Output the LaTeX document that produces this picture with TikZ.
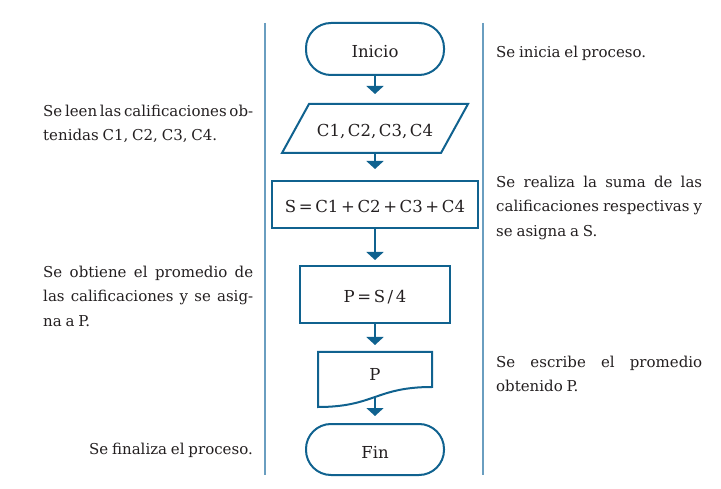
\documentclass[tikz,border=0pt]{standalone}
\usepackage{fontspec}
\setmainfont{DejaVu Serif}[WordSpace=0.8]
\newfontfamily\fuenteCaja{DejaVu Serif}[WordSpace=0.5]
\usepackage{tikz}
\usetikzlibrary{arrows.meta,calc}
\definecolor{AzulDiagrama}{RGB}{16,98,143}
\definecolor{AzulLinea}{RGB}{106,158,192}
\definecolor{GrisTexto}{RGB}{35,31,32}

\begin{document}
\begin{tikzpicture}[x=1pt,y=-1pt,>={Triangle[length=8pt,width=17pt]},
  bloque/.style={draw=AzulDiagrama,line width=2pt,text=GrisTexto,inner sep=0pt,text height=17pt,text depth=0pt,font=\fuenteCaja\fontsize{16.5}{19}\selectfont},
  terminal/.style={bloque,rounded corners=25pt,minimum width=138pt,minimum height=52pt},
  flecha/.style={->,draw=AzulDiagrama,line width=2pt,shorten >=#1},
  flecha/.default=8pt,
  nota/.style={text=GrisTexto,inner sep=0pt,font=\fontsize{15}{24.5}\selectfont}]
  \useasboundingbox (0,0) rectangle (721,489);
  \draw[AzulLinea,line width=2pt] (265,23)--(265,475);
  \draw[AzulLinea,line width=2pt] (483,23)--(483,475);
  \node[terminal] (inicio) at (375,49) {Inicio};
  \node[bloque,draw=none,minimum width=184pt,minimum height=47pt] (lectura) at (375,128.5) {C1, C2, C3, C4};
  \draw[AzulDiagrama,line width=2pt] (lectura.south west)--($(lectura.south east)+(-27,0)$)
    --(lectura.north east)--($(lectura.north west)+(27,0)$)--cycle;
  \node[bloque,minimum width=206pt,minimum height=47pt] (suma) at (375,204.5) {S = C1 + C2 + C3 + C4};
  \node[bloque,minimum width=150pt,minimum height=57pt] (promedio) at (375,294.5) {P = S / 4};
  \node[bloque,draw=none,minimum width=112pt,minimum height=53pt,text depth=14pt] (salida) at (375,379.5) {P};
  \coordinate (salidaDer) at ($(salida.south east)+(0,-20)$);
  \coordinate (salidaCurva) at ($(salida.south)+(0,-10)$);
  \draw[AzulDiagrama,line width=2pt] (salida.south west)--(salida.north west)--(salida.north east)--(salidaDer)
    .. controls +(-56,0) and +(56,0) .. (salida.south west)--cycle;
  \node[terminal,minimum height=51pt] (fin) at (375,449.5) {Fin};
  \draw[flecha=10pt] (inicio)--(lectura);
  \draw[flecha=11pt] (lectura)--(suma);
  \draw[flecha=5pt] (suma)--(promedio);
  \draw[flecha=7pt] (promedio)--(salida);
  \draw[flecha=7pt] (salidaCurva)--(fin);
  \node[nota,text width=210pt,align=justify,anchor=north west] (notaLee) at (43,104.5) {Se leen las calificaciones ob-\linebreak tenidas C1, C2, C3, C4.};
  \node[nota,text width=210pt,align=justify,anchor=north west] (notaPromedio) at (43,265.5) {Se obtiene el promedio de\linebreak las calificaciones y se asig-\linebreak na a P.};
  \node[nota,anchor=base east] (notaFin) at (253,454) {Se finaliza el proceso.};
  \node[nota,anchor=base west] (notaInicio) at (496,58) {Se inicia el proceso.};
  \node[nota,text width=206pt,align=justify,anchor=north west] (notaSuma) at (496,175.5) {Se realiza la suma de las\linebreak calificaciones respectivas y\linebreak se asigna a S.};
  \node[nota,text width=206pt,align=justify,anchor=north west] (notaEscribe) at (496,355.5) {Se escribe el promedio\linebreak obtenido P.};
\end{tikzpicture}
\end{document}
